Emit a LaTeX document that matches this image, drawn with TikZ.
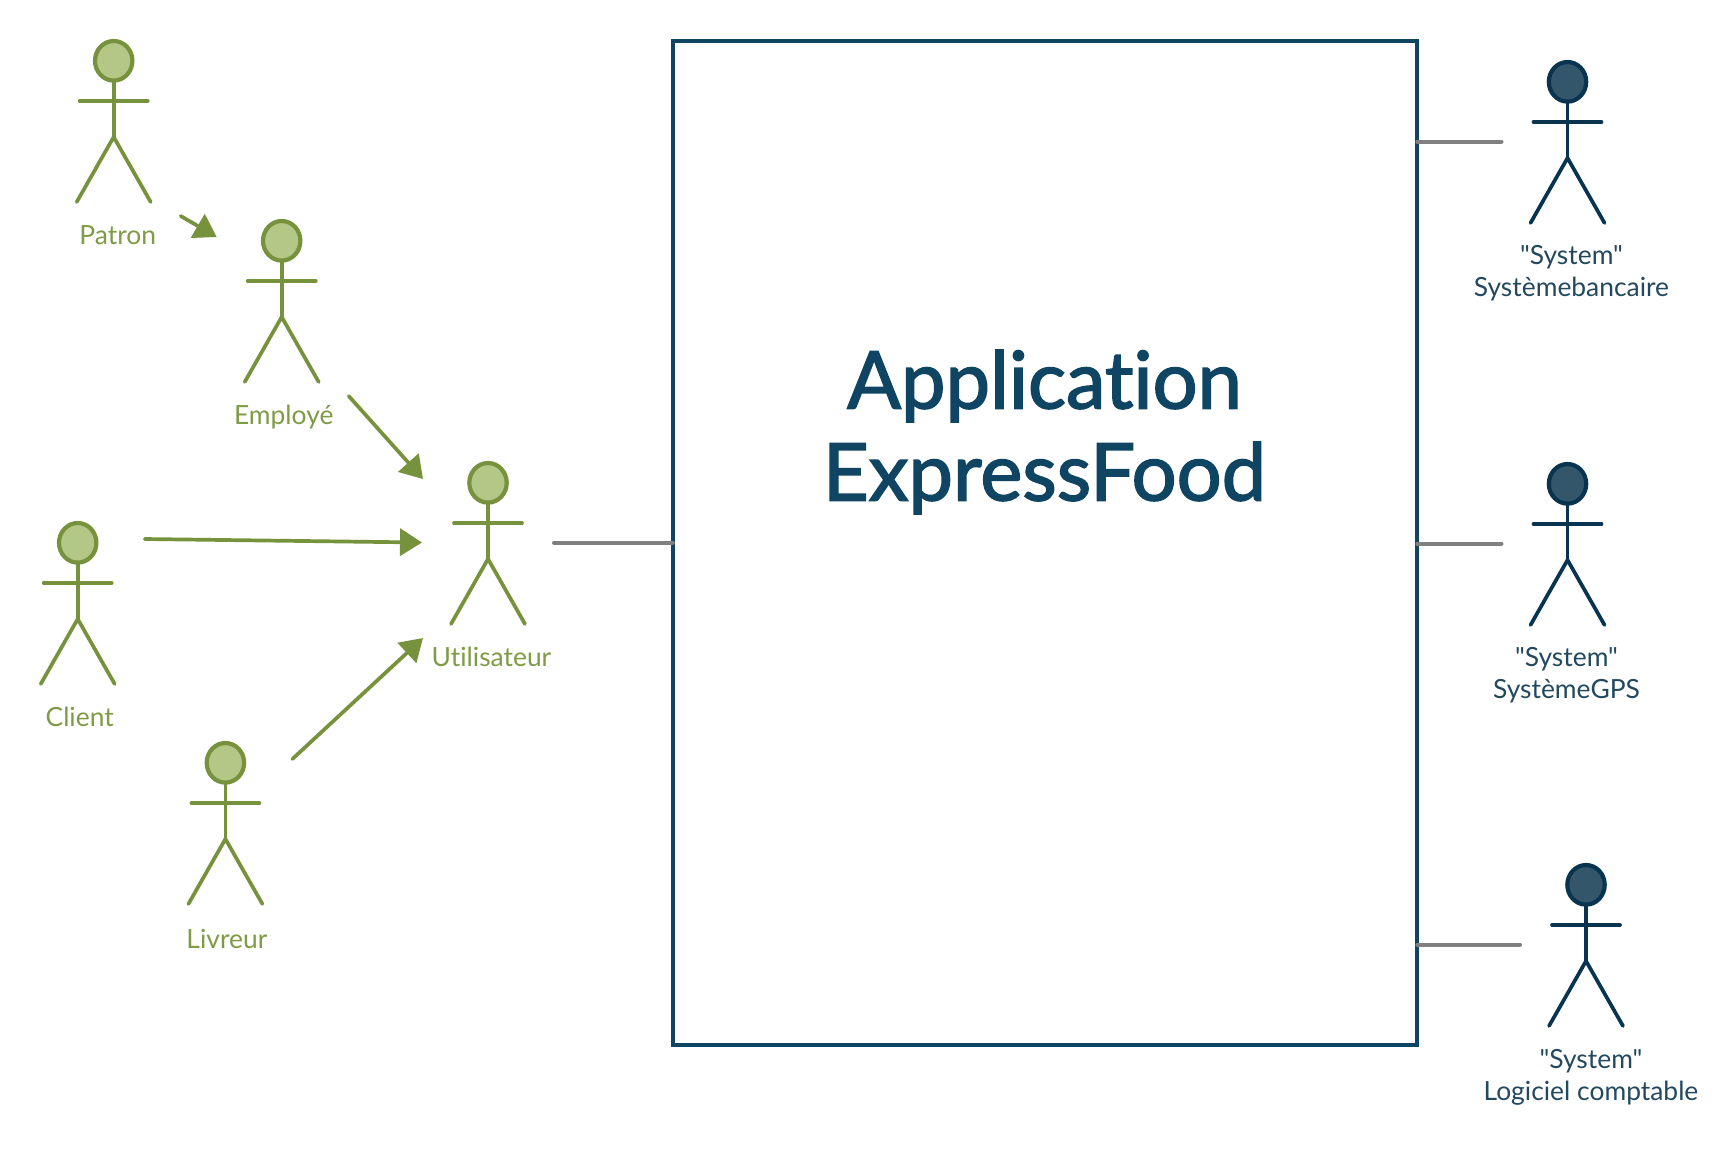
\documentclass[tikz,border=0pt]{standalone}
\usepackage{fontspec}
\setmainfont{Lato}[Ligatures={TeXOff,NoCommon}]
\newfontfamily\titlefont[FakeBold=2,Ligatures={TeXOff,NoCommon}]{Lato}
\usetikzlibrary{arrows.meta}
\definecolor{leafline}{HTML}{76923C}
\definecolor{leafhead}{HTML}{B3C786}
\definecolor{leaftext}{HTML}{7F9B45}
\definecolor{nightline}{HTML}{08344F}
\definecolor{nighthead}{HTML}{34566A}
\definecolor{nighttext}{HTML}{23495F}
\definecolor{framecol}{HTML}{0F4562}
\definecolor{linkgrey}{HTML}{808080}
\tikzset{
	x=1pt,y=-1pt,
	actorbox/.style={minimum width=132pt,minimum height=159pt,inner sep=0pt,outer sep=0pt},
	actorlabel/.style={font=\fontsize{26.4}{32}\selectfont,align=center},
	actorbody/.style={line width=3.7pt,line cap=round,line join=round},
	genlink/.style={leafline,line width=3.7pt,line cap=round,-{Triangle[length=22pt,width=27pt]}},
	syslink/.style={linkgrey,line width=4pt,line cap=round}
}
\newcommand{\actor}[7]{
	\node[actorbox] (#1) at (#2+1,#3+76.5) {};
	\coordinate (#1w) at (#2-66,#3+60.5);
	\coordinate (#1e) at (#2+66,#3+60.5);
	\draw[#5line,fill=#5head,line width=4.2pt] (#2,#3+0.8) ellipse [x radius=18.7,y radius=19.8];
	\draw[#5line,actorbody] (#2,#3+21) -- (#2,#3+77);
	\draw[#5line,actorbody] (#2-34,#3+41) -- (#2+34,#3+41);
	\draw[#5line,actorbody] (#2-37,#3+142) -- (#2,#3+77) -- (#2+37,#3+142);
	\node[actorlabel,text=#5text] (#1label) at (#2+#6,#3+#7) {#4};
}

\begin{document}
\begin{tikzpicture}
	\useasboundingbox (0,0) rectangle (1736,1157);
	\fill[white] (0,0) rectangle (1736,1157);
	\node[draw=framecol,line width=3.6pt,minimum width=744.5pt,minimum height=1004pt,inner sep=0pt,outer sep=0pt] (app) at (1045,543) {};
	\node[text=framecol,align=center,font=\fontsize{79.5}{92}\selectfont\titlefont] (apptitle) at (1044.5,432) {Application\\ExpressFood};
	\actor{patron}{113.7}{60}{Patron}{leaf}{4}{175}
	\actor{employe}{281.7}{240}{Employé}{leaf}{2}{177}
	\actor{client}{77.7}{542}{Client}{leaf}{2}{175}
	\actor{util}{488}{482}{Utilisateur}{leaf}{3.5}{175}
	\actor{livreur}{225.4}{762}{Livreur}{leaf}{1.5}{177}
	\actor{bank}{1567.5}{81}{"System"\\Systèmebancaire}{night}{4}{192}
	\actor{gps}{1567.5}{483}{"System"\\SystèmeGPS}{night}{-1}{192}
	\actor{compta}{1586}{884}{"System"\\Logiciel comptable}{night}{5}{193.5}
	\draw[genlink] (patron.south east) -- (employe.north west);
	\draw[genlink] (employe.south east) -- (util.north west);
	\draw[genlink] (client.north east) -- (utilw);
	\draw[genlink] (livreur.north east) -- (util.south west);
	\draw[syslink] (utile) -- (utile -| app.west);
	\draw[syslink] (bankw) -- (bankw -| app.east);
	\draw[syslink] (gpsw) -- (gpsw -| app.east);
	\draw[syslink] (comptaw) -- (comptaw -| app.east);
\end{tikzpicture}
\end{document}
